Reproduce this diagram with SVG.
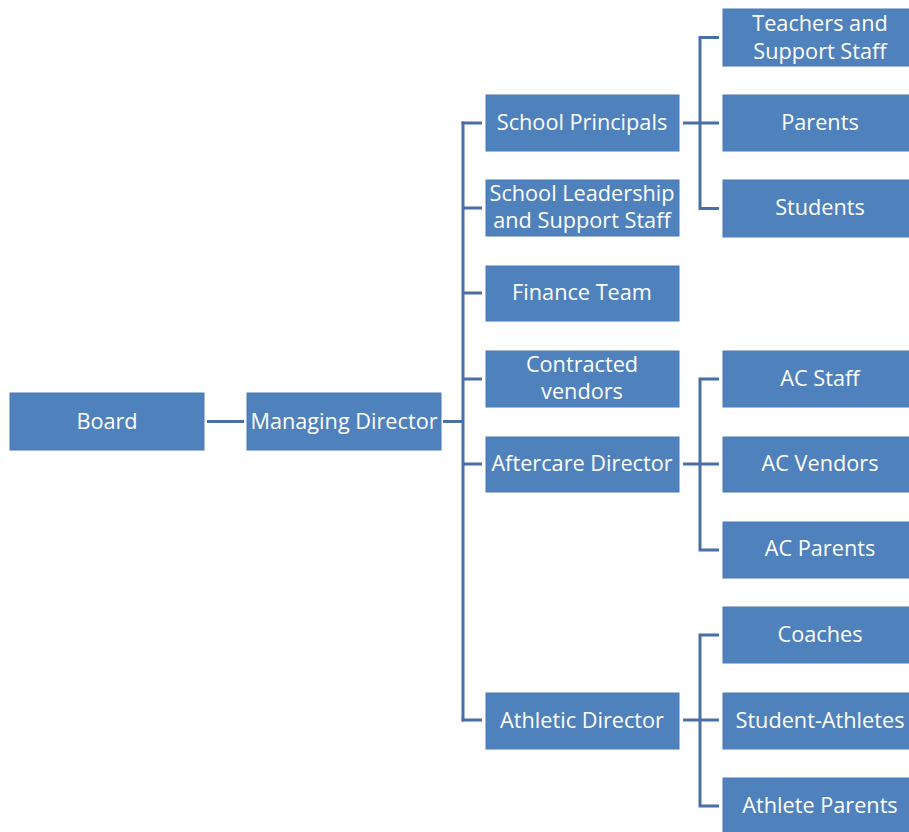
<svg xmlns="http://www.w3.org/2000/svg" width="909" height="832" viewBox="0 0 909 832">
<style>
.box{fill:#4F81BD;stroke:#4A7AB5;stroke-width:1}
.t{font-family:"Open Sans","Noto Sans",sans-serif;font-size:21.7px;fill:#FFFFFF;text-anchor:middle}
.c{stroke:#4A6FA5;stroke-width:3;fill:none;stroke-linecap:butt}
</style>
<rect width="909" height="832" fill="#FFFFFF"/>
<g id="connectors">
<path class="c" d="M207 421.5H244"/>
<path class="c" d="M443 421.5H463"/>
<path class="c" d="M463 121.5V721.5"/>
<path class="c" d="M461.5 123H482M463 208H482M463 293H482M463 379H482M463 464H482M461.5 720H482"/>
<path class="c" d="M683 123H719"/>
<path class="c" d="M719 37.5H700V208.5H719"/>
<path class="c" d="M683 464H719"/>
<path class="c" d="M719 379H700V550H719"/>
<path class="c" d="M683 720H719"/>
<path class="c" d="M719 635H700V806H719"/>
</g>
<g id="board"><rect class="box" x="10" y="393" width="194" height="57"/><text class="t" x="107" y="429">Board</text></g>
<g id="managing-director"><rect class="box" x="247" y="393" width="194" height="57"/><text class="t" x="344" y="429">Managing Director</text></g>
<g id="school-principals"><rect class="box" x="486" y="95" width="193" height="56"/><text class="t" x="582" y="130">School Principals</text></g>
<g id="school-leadership"><rect class="box" x="486" y="180" width="193" height="56"/><text class="t" x="582" y="201">School Leadership</text><text class="t" x="582" y="228">and Support Staff</text></g>
<g id="finance-team"><rect class="box" x="486" y="266" width="193" height="55"/><text class="t" x="582" y="300">Finance Team</text></g>
<g id="contracted-vendors"><rect class="box" x="486" y="351" width="193" height="56"/><text class="t" x="582" y="372">Contracted</text><text class="t" x="582" y="399">vendors</text></g>
<g id="aftercare-director"><rect class="box" x="486" y="437" width="193" height="55"/><text class="t" x="582" y="471">Aftercare Director</text></g>
<g id="athletic-director"><rect class="box" x="486" y="693" width="193" height="56"/><text class="t" x="582" y="728">Athletic Director</text></g>
<g id="teachers"><rect class="box" x="723" y="9" width="200" height="57"/><text class="t" x="820" y="31">Teachers and</text><text class="t" x="820" y="59">Support Staff</text></g>
<g id="parents"><rect class="box" x="723" y="95" width="200" height="56"/><text class="t" x="820" y="130">Parents</text></g>
<g id="students"><rect class="box" x="723" y="180" width="200" height="57"/><text class="t" x="820" y="215">Students</text></g>
<g id="ac-staff"><rect class="box" x="723" y="351" width="200" height="56"/><text class="t" x="820" y="386">AC Staff</text></g>
<g id="ac-vendors"><rect class="box" x="723" y="437" width="200" height="55"/><text class="t" x="820" y="471">AC Vendors</text></g>
<g id="ac-parents"><rect class="box" x="723" y="522" width="200" height="56"/><text class="t" x="820" y="556">AC Parents</text></g>
<g id="coaches"><rect class="box" x="723" y="607" width="200" height="56"/><text class="t" x="820" y="642">Coaches</text></g>
<g id="student-athletes"><rect class="box" x="723" y="693" width="200" height="56"/><text class="t" x="820" y="728">Student-Athletes</text></g>
<g id="athlete-parents"><rect class="box" x="723" y="778" width="200" height="60"/><text class="t" x="820" y="813">Athlete Parents</text></g>
</svg>
